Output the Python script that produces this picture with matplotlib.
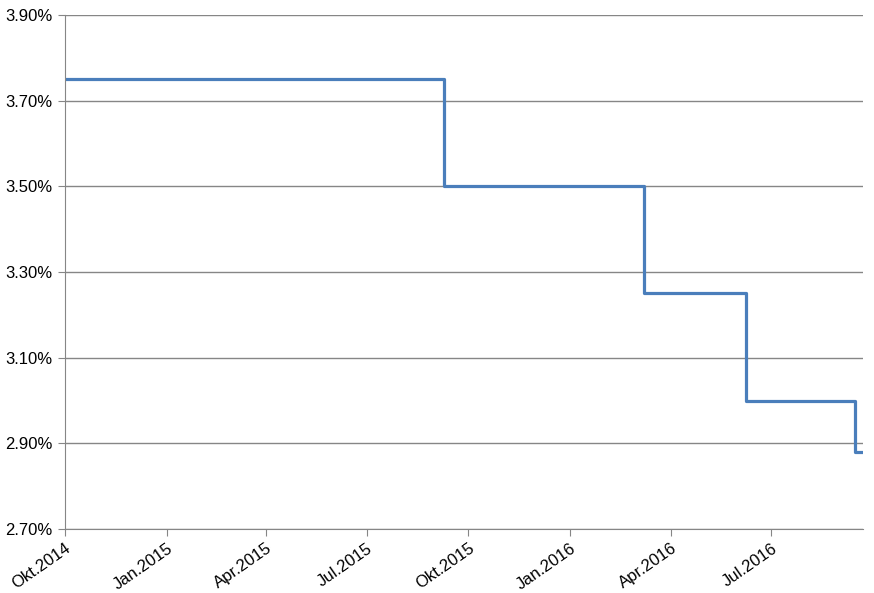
import matplotlib
matplotlib.use("Agg")
import matplotlib.pyplot as plt
from matplotlib.ticker import FuncFormatter
import datetime as dt

plt.rcParams['font.family'] = ['Liberation Sans', 'DejaVu Sans']

# change dates and rates (step after each date)
dates = [dt.date(2014, 10, 1), dt.date(2015, 9, 9), dt.date(2016, 3, 8),
         dt.date(2016, 6, 8), dt.date(2016, 9, 15), dt.date(2016, 9, 22)]
rates = [3.75, 3.50, 3.25, 3.00, 2.88, 2.88]

tick_dates = [dt.date(2014, 10, 1), dt.date(2015, 1, 1), dt.date(2015, 4, 1),
              dt.date(2015, 7, 1), dt.date(2015, 10, 1), dt.date(2016, 1, 1),
              dt.date(2016, 4, 1), dt.date(2016, 7, 1)]
tick_labels = ["Okt.2014", "Jan.2015", "Apr.2015", "Jul.2015",
               "Okt.2015", "Jan.2016", "Apr.2016", "Jul.2016"]

fig = plt.figure(figsize=(8.74, 5.93), dpi=100)
ax = fig.add_axes([65/874, 1-529/593, (863-65)/874, (529-15)/593])

ax.step(dates, rates, where='post', color='#4a7ebb', linewidth=2.3)

ax.set_xlim(dates[0], dates[-1])
ax.set_ylim(2.70, 3.90)
ax.set_yticks([2.70, 2.90, 3.10, 3.30, 3.50, 3.70, 3.90])
ax.yaxis.set_major_formatter(FuncFormatter(lambda v, p: "%.2f%%" % v))
ax.set_xticks(tick_dates)
ax.set_xticklabels(tick_labels, rotation=35, ha='right', rotation_mode='anchor')

ax.grid(axis='y', color='#868686', linewidth=1.0)
ax.set_axisbelow(True)
for s in ['top', 'right']:
    ax.spines[s].set_visible(False)
for s in ['left', 'bottom']:
    ax.spines[s].set_color('#868686')
ax.tick_params(axis='both', colors='#868686', labelcolor='black', labelsize=12, length=5)
ax.tick_params(axis='y', pad=4)

fig.savefig("out.png", dpi=100)
